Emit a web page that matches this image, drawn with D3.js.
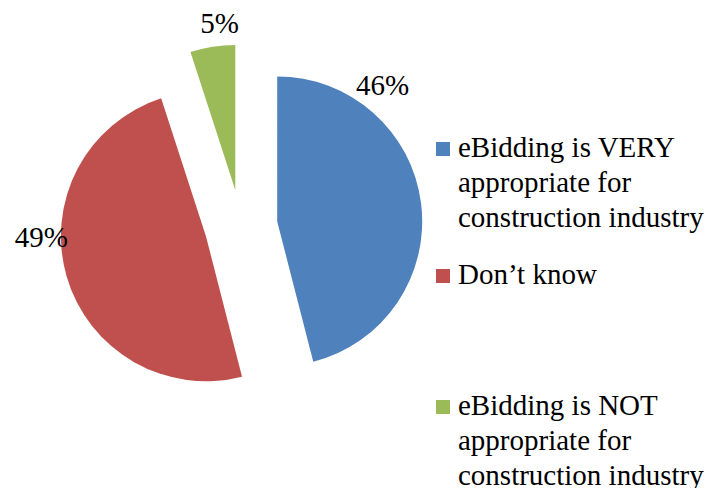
<!DOCTYPE html>
<html>
<head>
<meta charset="utf-8">
<script src="https://cdn.jsdelivr.net/npm/d3@7"></script>
<style>
  html, body { margin: 0; padding: 0; background: #fff; }
  svg { display: block; }
  text { font-family: "Liberation Serif", "Times New Roman", serif; fill: #000; }
</style>
</head>
<body>
<svg id="chart" width="713" height="488"></svg>
<script>
// Survey answers and their shares (percent)
const categories = [
  "eBidding is VERY appropriate for construction industry",
  "Don\u2019t know",
  "eBidding is NOT appropriate for construction industry"
];
const values = [46, 49, 5];
const legendLines = [
  ["eBidding is VERY", "appropriate for", "construction industry"],
  ["Don\u2019t know"],
  ["eBidding is NOT", "appropriate for", "construction industry"]
];
const colors = ["#4F81BD", "#C0504D", "#9BBB59"];

const svg = d3.select("#chart");
const cx = 241, cy = 226, radius = 145, explode = 36.5;

const pie = d3.pie().sort(null).value(d => d)(values);
const arc = d3.arc().innerRadius(0).outerRadius(radius);

const g = svg.append("g").attr("transform", `translate(${cx},${cy})`);

// Exploded slices: each pushed out along its mid angle
g.selectAll("path.slice")
  .data(pie)
  .join("path")
  .attr("class", "slice")
  .attr("d", arc)
  .attr("fill", (d, i) => colors[i])
  .attr("transform", d => {
    const a = (d.startAngle + d.endAngle) / 2;
    return `translate(${explode * Math.sin(a)},${-explode * Math.cos(a)})`;
  });

// Percentage labels placed outside the slices (angle in degrees, distance from centre)
const labelPos = [
  { angle: 45.1, dist: 200 },
  { angle: 266.9, dist: 200 },
  { angle: 354, dist: 204 }
];
g.selectAll("text.pct")
  .data(pie)
  .join("text")
  .attr("class", "pct")
  .attr("text-anchor", "middle")
  .attr("font-size", 29)
  .attr("x", (d, i) => labelPos[i].dist * Math.sin(labelPos[i].angle * Math.PI / 180))
  .attr("y", (d, i) => -labelPos[i].dist * Math.cos(labelPos[i].angle * Math.PI / 180) + 10)
  .text(d => d.data + "%");

// Legend
const legendTop = [142, 269, 400];
const legend = svg.append("g");
legendLines.forEach((lines, i) => {
  const item = legend.append("g").attr("transform", `translate(436,${legendTop[i]})`);
  item.append("rect").attr("width", 14).attr("height", 14).attr("fill", colors[i]);
  const t = item.append("text").attr("x", 22).attr("y", 15).attr("font-size", 29);
  lines.forEach((line, j) => {
    t.append("tspan").attr("x", 22).attr("y", 15 + j * 35).text(line);
  });
});
</script>
</body>
</html>
